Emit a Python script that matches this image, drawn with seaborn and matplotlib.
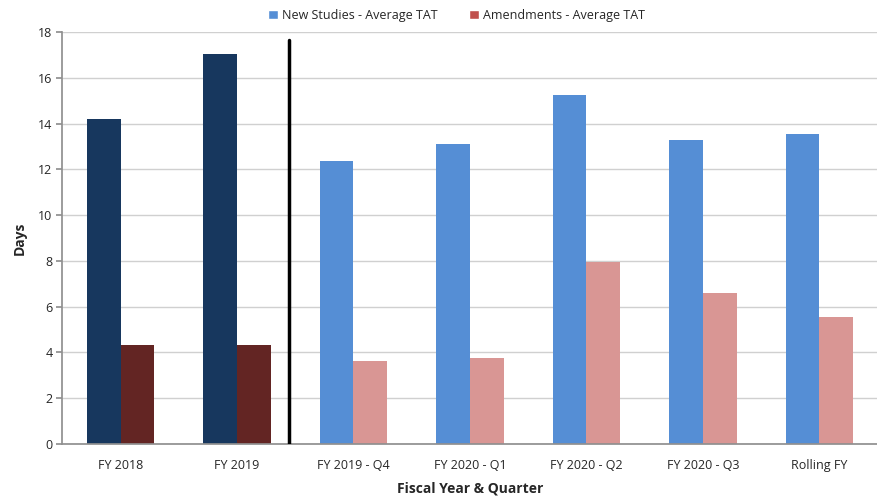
import matplotlib.pyplot as plt
from matplotlib.patches import Patch
import seaborn as sns
import pandas as pd

# data
categories = ["FY 2018", "FY 2019", "FY 2019 - Q4", "FY 2020 - Q1",
              "FY 2020 - Q2", "FY 2020 - Q3", "Rolling FY"]
new_studies = [14.22, 17.03, 12.37, 13.12, 15.27, 13.27, 13.55]
amendments = [4.33, 4.33, 3.64, 3.77, 7.93, 6.61, 5.56]
series = ["New Studies - Average TAT", "Amendments - Average TAT"]

df = pd.DataFrame({
    "cat": categories * 2,
    "series": [series[0]] * len(categories) + [series[1]] * len(categories),
    "val": new_studies + amendments,
})

sns.set_theme(style="white")
plt.rcParams['font.family'] = ['Open Sans', 'DejaVu Sans']

fig, ax = plt.subplots(figsize=(8.78, 5.01), dpi=100)
fig.subplots_adjust(left=0.071, right=0.9995, top=0.936, bottom=0.114)

sns.barplot(data=df, x="cat", y="val", hue="series", hue_order=series,
            order=categories, width=0.58, gap=0, legend=False, ax=ax,
            saturation=1)

# dark colours for the annual bars, light for the quarters
for i, bar in enumerate(ax.containers[0]):
    bar.set_facecolor("#17375e" if i < 2 else "#558ed5")
    bar.set_edgecolor("none")
for i, bar in enumerate(ax.containers[1]):
    bar.set_facecolor("#632523" if i < 2 else "#d99694")
    bar.set_edgecolor("none")

ax.axvline(1.45, ymin=0, ymax=0.98, color="black", linewidth=2.5, zorder=3)

ax.set_ylim(0, 18)
ax.set_yticks(range(0, 19, 2))
ax.set_xlim(-0.5, len(categories) - 0.5)
ax.yaxis.grid(True, color="#d0d0d0", linewidth=1)
ax.set_axisbelow(True)
for s in ["top", "right"]:
    ax.spines[s].set_visible(False)
for s in ["left", "bottom"]:
    ax.spines[s].set_color("#909090")
ax.tick_params(axis="y", left=True, length=4, color="#909090", labelsize=9, pad=3)
ax.tick_params(axis="x", bottom=False, labelsize=9, pad=5)

ax.set_ylabel("Days", fontsize=10, fontweight="bold", labelpad=8)
ax.set_xlabel("Fiscal Year & Quarter", fontsize=10, fontweight="bold", labelpad=7)

handles = [Patch(facecolor="#558ed5", label=series[0]),
           Patch(facecolor="#c0504d", label=series[1])]
fig.legend(handles=handles, loc="upper center", bbox_to_anchor=(0.52, 1.005),
           ncol=2, frameon=False, fontsize=9, handlelength=0.8,
           handleheight=0.8, handletextpad=0.3, columnspacing=2.5)

fig.savefig("out.png", dpi=100)
